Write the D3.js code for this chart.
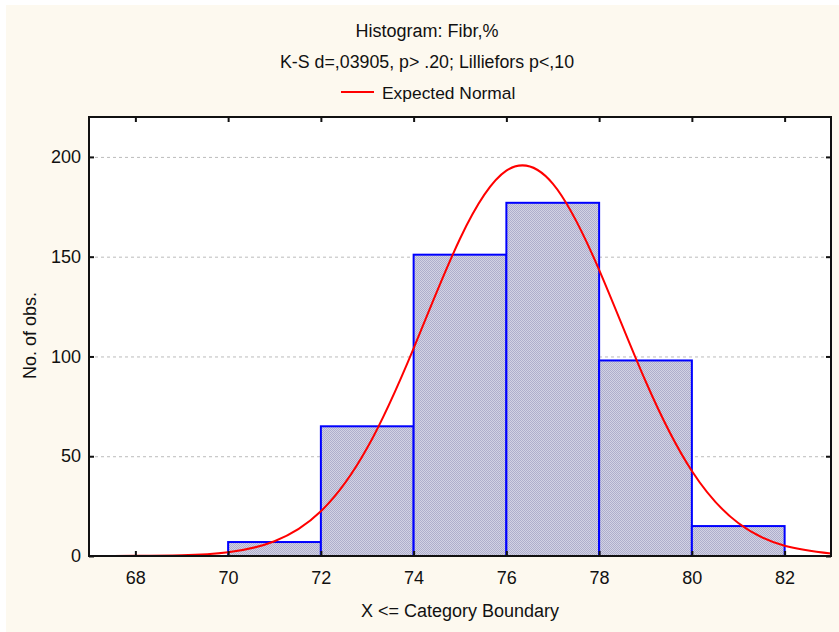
<!DOCTYPE html>
<html><head><meta charset="utf-8">
<script src="https://cdn.jsdelivr.net/npm/d3@7"></script>
<style>body{margin:0;background:#fff}svg{display:block}text{font-family:"Liberation Sans",Arial,sans-serif;fill:#111}</style>
</head><body>
<svg id="c" width="839" height="632"></svg>
<script>
const binStarts = [70, 72, 74, 76, 78, 80];
const binWidth = 2;
const counts = [7, 65, 151, 177, 98, 15];
const xTicks = [68, 70, 72, 74, 76, 78, 80, 82];
const yTicks = [0, 50, 100, 150, 200];
const normalX = [67, 68, 69, 70, 71, 72, 73, 74, 75, 76, 77, 78, 79, 80, 81, 82, 83];
const normalY = [0, 0.1, 0.4, 1.9, 7.4, 22.4, 54.2, 104.1, 159.0, 193.1, 186.6, 143.4, 87.7, 42.6, 16.5, 5.1, 1.2];
const title = "Histogram: Fibr,%";
const subtitle = "K-S d=,03905, p> .20; Lilliefors p<,10";
const legendLabel = "Expected Normal";
const xLabel = "X <= Category Boundary";
const yLabel = "No. of obs.";

const FS = 18;
const svg = d3.select("#c");
svg.append("rect").attr("x",6).attr("y",5).attr("width",833).attr("height",627).attr("fill","#fdf9ef");

const L=89, R=831, T=117, B=556;
const x = d3.scaleLinear().domain([67,83]).range([L,R]);
const y = d3.scaleLinear().domain([0,220]).range([B,T]);

const defs = svg.append("defs");
const pat = defs.append("pattern").attr("id","hatch").attr("patternUnits","userSpaceOnUse").attr("width",2).attr("height",2);
pat.append("rect").attr("width",2).attr("height",2).attr("fill","#d2d2e4");
[[0,0],[1,1]].forEach(p=>pat.append("rect").attr("x",p[0]).attr("y",p[1]).attr("width",1).attr("height",1).attr("fill","#aeaecc"));
defs.append("clipPath").attr("id","clip").append("rect").attr("x",L).attr("y",T).attr("width",R-L).attr("height",B-T);

svg.append("rect").attr("x",L).attr("y",T).attr("width",R-L).attr("height",B-T).attr("fill","#fff");

// grid
svg.append("g").selectAll("line").data(yTicks.filter(d=>d>0)).join("line")
  .attr("x1",L).attr("x2",R).attr("y1",d=>y(d)+0.5).attr("y2",d=>y(d)+0.5)
  .attr("stroke","#bbb").attr("stroke-dasharray","3,3").attr("stroke-width",1);

// bars
svg.append("g").selectAll("rect").data(binStarts).join("rect")
  .attr("x",(d)=>x(d)).attr("width",d=>x(d+binWidth)-x(d))
  .attr("y",(d,i)=>y(counts[i])).attr("height",(d,i)=>y(0)-y(counts[i]))
  .attr("fill","url(#hatch)").attr("stroke","#0000ff").attr("stroke-width",2);

// normal curve
const line = d3.line().x((d,i)=>x(normalX[i])).y(d=>y(d)).curve(d3.curveNatural);
svg.append("path").datum(normalY).attr("d",line).attr("fill","none")
  .attr("stroke","#ff0000").attr("stroke-width",2).attr("clip-path","url(#clip)");

// frame
svg.append("rect").attr("x",L).attr("y",T).attr("width",R-L).attr("height",B-T)
  .attr("fill","none").attr("stroke","#111").attr("stroke-width",2);

// axes
const xa = svg.append("g").attr("transform",`translate(0,${B})`)
  .call(d3.axisBottom(x).tickValues(xTicks).tickSize(-5).tickPadding(15));
const xt = svg.append("g").attr("transform",`translate(0,${T})`)
  .call(d3.axisTop(x).tickValues(xTicks).tickSize(-5).tickFormat(""));
const ya = svg.append("g").attr("transform",`translate(${L},0)`)
  .call(d3.axisLeft(y).tickValues(yTicks).tickSize(-5).tickPadding(8));
const yr = svg.append("g").attr("transform",`translate(${R},0)`)
  .call(d3.axisRight(y).tickValues(yTicks).tickSize(-5).tickFormat(""));
[xa,xt,ya,yr].forEach(g=>{
  g.select(".domain").remove();
  g.selectAll(".tick line").attr("stroke","#111").attr("stroke-width",2);
  g.selectAll("text").attr("font-size",FS).attr("fill","#111").style("font-family","'Liberation Sans',Arial,sans-serif");
});

// titles
const cx = 427;
svg.append("text").attr("x",cx).attr("y",37).attr("text-anchor","middle").attr("font-size",FS).text(title);
svg.append("text").attr("x",cx).attr("y",68).attr("text-anchor","middle").attr("font-size",17.8).text(subtitle);
svg.append("line").attr("x1",341).attr("x2",374).attr("y1",92).attr("y2",92).attr("stroke","#ff0000").attr("stroke-width",2);
svg.append("text").attr("x",382).attr("y",99).attr("font-size",17.4).text(legendLabel);

svg.append("text").attr("x",(L+R)/2).attr("y",617).attr("text-anchor","middle").attr("font-size",FS)
  .text(xLabel);
svg.append("text").attr("transform",`translate(36,335.5) rotate(-90)`).attr("text-anchor","middle")
  .attr("font-size",FS).text(yLabel);
</script>
</body></html>
